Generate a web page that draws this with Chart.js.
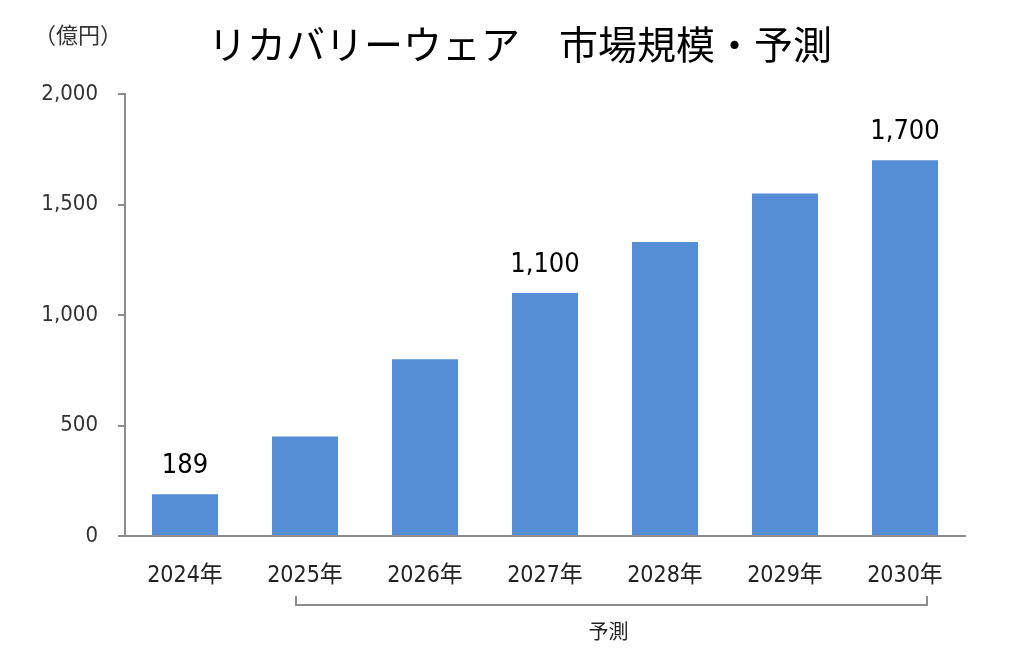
<!DOCTYPE html>
<html>
<head>
<meta charset="utf-8">
<script src="https://cdn.jsdelivr.net/npm/chart.js@4.4.0/dist/chart.umd.min.js"></script>
<style>
  html, body { margin: 0; padding: 0; background: #fff; overflow: hidden; }
  canvas { display: block; }
</style>
</head>
<body>
<canvas id="chart" width="1024" height="653"></canvas>
<script>
// ====== DATA ======
const years = ["2024年", "2025年", "2026年", "2027年", "2028年", "2029年", "2030年"];
const values = [189, 450, 800, 1100, 1330, 1550, 1700];
const shownLabels = [0, 3, 6]; // 値ラベルを出す棒
const yTicks = [0, 500, 1000, 1500, 2000];

const titleText = "リカバリーウェア　市場規模・予測";
const unitText = "（億円）";
const forecastText = "予測";

const FONT = "'DejaVu Sans Condensed', 'Noto Sans CJK JP', sans-serif";
const JP_FONT = "'Noto Sans CJK JP', sans-serif";
const axisGray = "#8c8c8c";

// ====== 追加描画（タイトル・値ラベル・予測ブラケット） ======
const extras = {
  id: "extras",
  afterDraw(chart) {
    const { ctx } = chart;
    const x = chart.scales.x;
    ctx.save();

    // タイトル
    ctx.fillStyle = "#000";
    ctx.font = `39px ${JP_FONT}`;
    ctx.textAlign = "center";
    ctx.textBaseline = "middle";
    ctx.fillText(titleText, 520, 44);

    // 単位
    ctx.font = `22px ${JP_FONT}`;
    ctx.fillStyle = "#333";
    ctx.fillText(unitText, 78, 35);

    // 値ラベル
    const meta = chart.getDatasetMeta(0);
    ctx.font = `27px ${FONT}`;
    ctx.fillStyle = "#000";
    ctx.textBaseline = "alphabetic";
    shownLabels.forEach((i) => {
      const bar = meta.data[i];
      ctx.fillText(values[i].toLocaleString("en-US"), bar.x, bar.y - 21);
    });

    // 予測ブラケット
    const left = x.getPixelForValue(1) - 9;
    const right = x.getPixelForValue(6) + 22;
    const top = 596, bottom = 605;
    ctx.strokeStyle = axisGray;
    ctx.lineWidth = 2;
    ctx.beginPath();
    ctx.moveTo(left, top);
    ctx.lineTo(left, bottom);
    ctx.lineTo(right, bottom);
    ctx.lineTo(right, top);
    ctx.stroke();

    ctx.font = `20px ${JP_FONT}`;
    ctx.fillStyle = "#222";
    ctx.textBaseline = "middle";
    ctx.fillText(forecastText, (left + right) / 2 - 3, 631);
    ctx.restore();
  },
};

// ====== Chart ======
new Chart(document.getElementById("chart"), {
  type: "bar",
  data: {
    labels: years,
    datasets: [
      {
        data: values,
        backgroundColor: "#558ed5",
        borderWidth: 0,
        categoryPercentage: 1,
        barPercentage: 0.55,
      },
    ],
  },
  options: {
    responsive: false,
    animation: false,
    devicePixelRatio: 1,
    layout: { padding: { top: 94, right: 59, left: 0, bottom: 0 } },
    plugins: {
      legend: { display: false },
      tooltip: { enabled: false },
    },
    scales: {
      x: {
        grid: { display: false },
        border: { color: axisGray, width: 2 },
        ticks: {
          color: "#222",
          font: { family: FONT, size: 23 },
          padding: 18,
        },
        afterFit(s) { s.height = 117; },
      },
      y: {
        min: 0,
        max: 2000,
        afterBuildTicks(s) { s.ticks = yTicks.map((v) => ({ value: v })); },
        grid: {
          drawOnChartArea: false,
          drawTicks: true,
          tickLength: 7,
          color: axisGray,
          lineWidth: 2,
        },
        border: { color: axisGray, width: 2 },
        ticks: {
          color: "#333",
          font: { family: FONT, size: 22 },
          padding: 20,
          callback: (v) => v.toLocaleString("en-US"),
        },
        afterFit(s) { s.width = 125; },
      },
    },
  },
  plugins: [extras],
});
</script>
</body>
</html>
